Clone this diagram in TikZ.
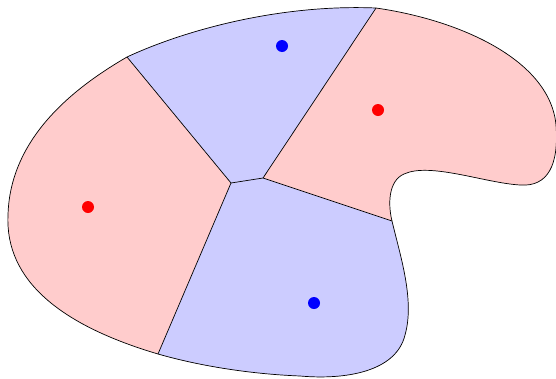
\documentclass[tikz,border=0pt]{standalone}
\begin{document}
\begin{tikzpicture}[x=1pt,y=-1pt,
  edge/.style={black,line width=0.7pt},
  dot/.style={circle,inner sep=0pt,minimum size=12pt}]
\useasboundingbox (0,0) rectangle (556,378);
\coordinate (A) at (127,57);
\coordinate (T) at (376,8);
\coordinate (V1) at (231,183);
\coordinate (V2) at (263,178);
\coordinate (J) at (392,221);
\coordinate (B) at (158,354);
\def\outline{(A) .. controls (185,30) and (280,4) .. (T)
  .. controls (460,20) and (550,60) .. (556,125)
  .. controls (559,165) and (548,187) .. (520,185)
  .. controls (485,183) and (430,162) .. (404,174)
  .. controls (388,181) and (388,205) .. (J)
  .. controls (400,255) and (415,300) .. (405,335)
  .. controls (396,372) and (345,380) .. (300,376)
  .. controls (250,374) and (200,366) .. (B)
  .. controls (60,325) and (5,280) .. (8,215)
  .. controls (10,140) and (70,90) .. (A) -- cycle}
\fill[red!20] \outline;
\begin{scope}
  \clip \outline;
  \fill[blue!20] (A) -- (V1) -- (V2) -- (T) -- (380,-10) -- (120,-10) -- cycle;
  \fill[blue!20] (V1) -- (V2) -- (J) -- (450,230) -- (450,400) -- (150,400) -- (B) -- cycle;
\end{scope}
\draw[edge] (A) -- (V1) -- (V2) -- (T);
\draw[edge] (V2) -- (J);
\draw[edge] (V1) -- (B);
\draw[edge] \outline;
\node[dot,fill=blue] (b1) at (282,46) {};
\node[dot,fill=red] (r1) at (378,110) {};
\node[dot,fill=red] (r2) at (88,207) {};
\node[dot,fill=blue] (b2) at (314,303) {};
\end{tikzpicture}
\end{document}
